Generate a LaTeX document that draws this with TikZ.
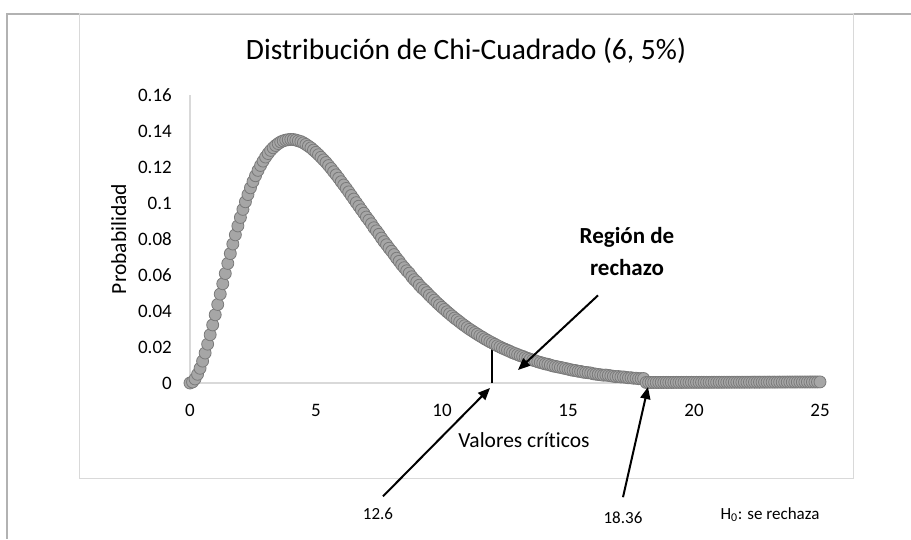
\documentclass[tikz,border=0pt]{standalone}
\usepackage{fontspec}
\setmainfont{Carlito}[Ligatures=NoCommon]
\usepackage{tikz}
\usetikzlibrary{arrows.meta,positioning,calc}

\tikzset{
  ticklbl/.style={font=\fontsize{19}{23}\selectfont,inner sep=0pt},
  axtitle/.style={font=\fontsize{21.5}{25}\selectfont,inner sep=0pt},
  smalllbl/.style={font=\fontsize{17}{20}\selectfont,inner sep=1pt},
  dot/.style={fill=black!35,draw=black!52,line width=0.8pt},
  axisline/.style={black!15,line width=1.2pt},
  callout/.style={line width=2pt,-{Triangle[length=12pt,width=10pt]}}
}

\begin{document}
\begin{tikzpicture}[x=1pt,y=1pt]
\useasboundingbox (0,0) rectangle (911,539);
% outer frame and chart area
\draw[black!30,line width=2pt] (911,525) -- (7,525) -- (7,0);
\draw[black!15,line width=1pt] (79,61) rectangle (853,525);
\node[font=\fontsize{29.5}{34}\selectfont,anchor=base] (title) at (466,479) {Distribución de Chi-Cuadrado (6, 5\%)};

% plot
\begin{scope}[shift={(190,156)},x=25.2pt,y=1800pt]
\draw[axisline] (0,0) -- (25,0);
\draw[axisline] (0,0) -- (0,0.16);
\foreach \v in {0,0.02,0.04,0.06,0.08,0.1,0.12,0.14,0.16}
  \node[ticklbl,anchor=east,xshift=-18pt] at (0,\v) {\v};
\foreach \t in {0,5,...,25}
  \node[ticklbl,anchor=base,yshift=-33pt] at (\t,0) {\t};
\draw[line width=2pt] (12,0) -- (12,{144*exp(-6)/16});
\foreach \i in {0,...,250}{
  \pgfmathsetmacro\xx{\i/10}
  \pgfmathsetmacro\yy{\xx*\xx*exp(-\xx/2)/16}
  \draw[dot] (\xx,\yy) circle[radius=6pt];
}
\end{scope}

\node[axtitle,anchor=base,rotate=90] (ytitle) at (126,300) {Probabilidad};
\node[axtitle,anchor=base] (xtitle) at (524,92) {Valores críticos};

% callouts
\coordinate (tip126) at (490,151);
\coordinate (tip1836) at (648,152);
\coordinate (tipreg) at (518,169);
\node[smalllbl,anchor=base] (v126) at (378,20) {12.6};
\node[smalllbl,anchor=base] (v1836) at (623,16) {18.36};
\node[smalllbl,anchor=base] (h0) at (770,20) {H\textsubscript{0}: se rechaza};
\node[font=\fontsize{23}{32}\selectfont\bfseries,align=center,anchor=base,inner sep=1pt] (region) at (627,263) {Región de\\rechazo};
\draw[callout] ($(v126.north)+(5,10)$) -- (tip126);
\draw[callout] ($(v1836.north)+(0,13)$) -- (tip1836);
\draw[callout] ($(region.south)+(-29,-18)$) -- (tipreg);
\end{tikzpicture}
\end{document}
